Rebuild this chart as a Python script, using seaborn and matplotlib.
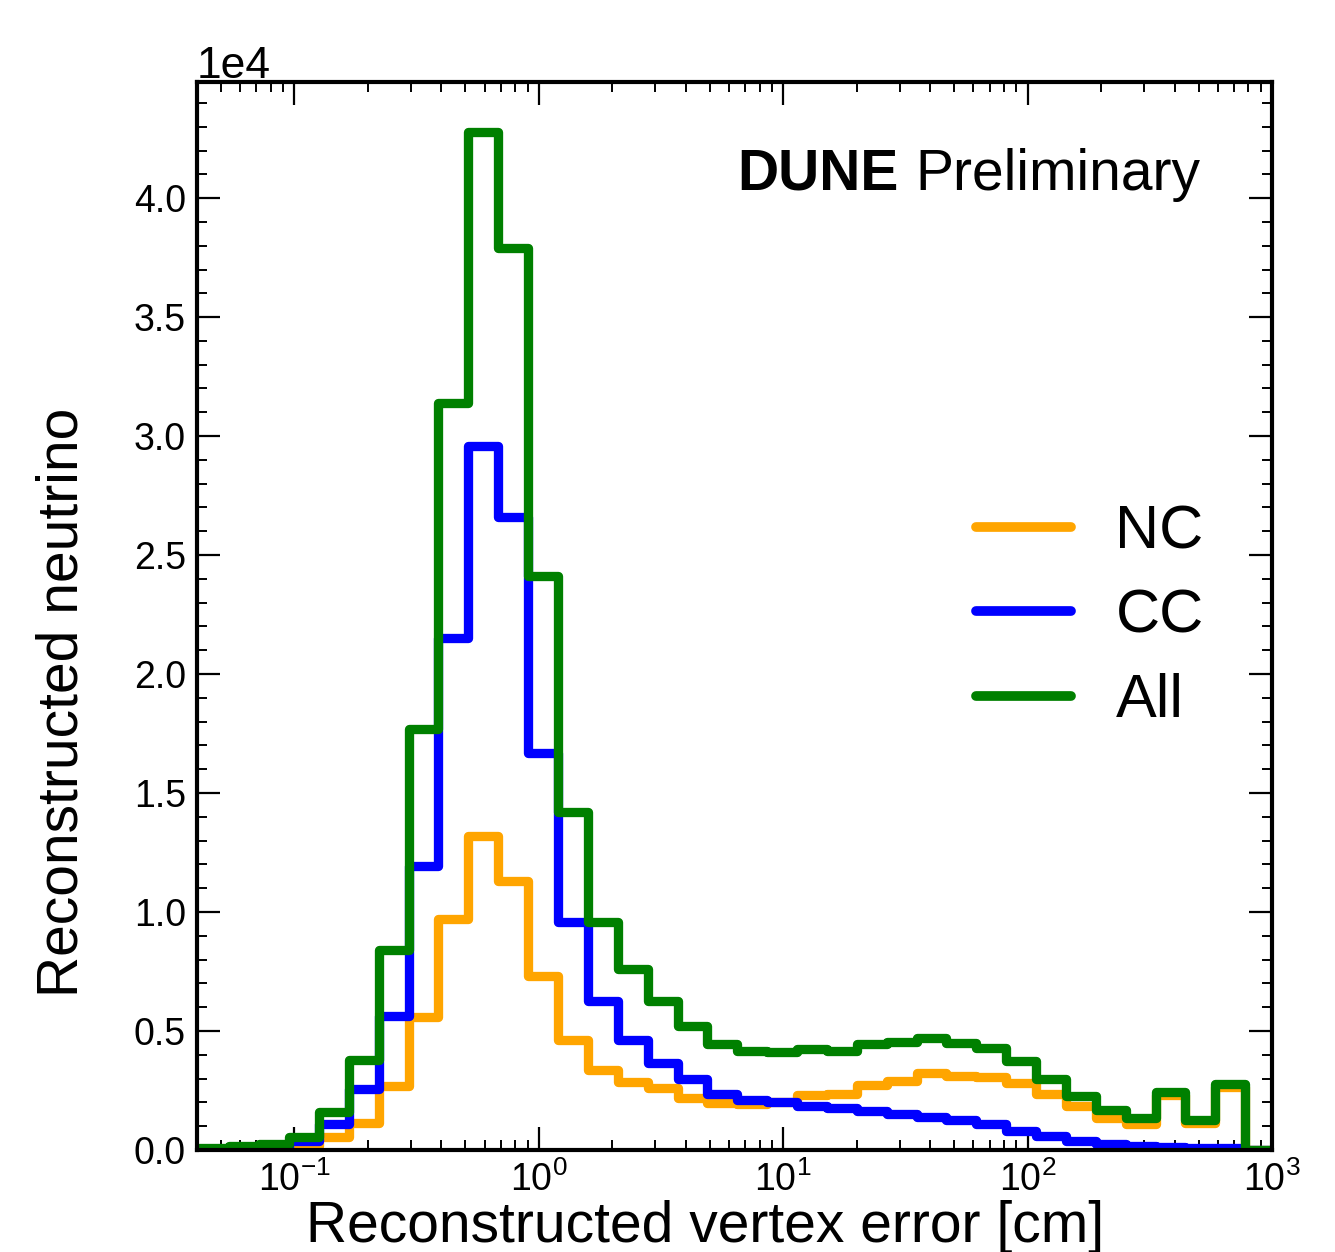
import numpy as np
import pandas as pd
import matplotlib
matplotlib.use("Agg")
import matplotlib.pyplot as plt
import seaborn as sns
from matplotlib.lines import Line2D
from matplotlib.ticker import MultipleLocator

# ---- data (bin contents) ----
n_bins = 36
log_range = (-1.388, 3.012)   # log10 bin range in cm

nc_counts = [0, 0, 0, 150, 550, 1120, 2690, 5600, 9700, 13200, 11300, 7330,
             4620, 3340, 2840, 2590, 2170, 1960, 1930, 2010, 2310, 2350, 2750, 2900,
             3250, 3120, 3080, 2830, 2370, 1840, 1330, 1100, 2310, 1120, 2630, 0]
cc_counts = [0, 0, 90, 370, 1080, 2550, 5640, 11950, 21500, 29600, 26600, 16700,
             9570, 6270, 4610, 3640, 2980, 2340, 2100, 2000, 1860, 1750, 1620, 1530,
             1370, 1240, 1090, 810, 600, 390, 250, 150, 120, 100, 80, 0]
all_counts = [80, 150, 250, 560, 1600, 3760, 8400, 17700, 31400, 42800, 37900, 24100,
              14200, 9600, 7600, 6270, 5220, 4450, 4170, 4100, 4240, 4150, 4450, 4550,
              4700, 4500, 4300, 3740, 2970, 2270, 1680, 1360, 2450, 1260, 2760, 0]

series_labels = ["NC", "CC", "All"]
series_colors = ["#FFA500", "#0000FF", "#008000"]

# ---- style ----
sns.set_style("ticks")
plt.rcParams['font.family'] = ['Liberation Sans', 'DejaVu Sans']
plt.rcParams['mathtext.fontset'] = 'custom'
plt.rcParams['mathtext.rm'] = 'Liberation Sans'
plt.rcParams['mathtext.it'] = 'Liberation Sans:italic'
plt.rcParams['mathtext.bf'] = 'Liberation Sans:bold'
plt.rcParams['axes.linewidth'] = 3.0
for key in ['text.color', 'axes.labelcolor', 'xtick.color', 'ytick.color',
            'axes.edgecolor', 'xtick.labelcolor', 'ytick.labelcolor']:
    plt.rcParams[key] = 'black'

log_edges = np.linspace(log_range[0], log_range[1], n_bins + 1)
centers = 10 ** ((log_edges[:-1] + log_edges[1:]) / 2)
frames = []
for lab, vals in zip(series_labels, [nc_counts, cc_counts, all_counts]):
    frames.append(pd.DataFrame({"error": centers, "count": vals, "type": lab}))
df = pd.concat(frames, ignore_index=True)

fig = plt.figure(figsize=(13.35, 12.52), dpi=100)
ax = fig.add_axes([0.1476, 0.0815, 0.8053, 0.853])

for lab, col in zip(series_labels, series_colors):
    sub = df[df["type"] == lab]
    sns.histplot(data=sub, x="error", weights="count", bins=n_bins,
                 binrange=log_range, log_scale=True, element="step",
                 fill=False, color=col, linewidth=6.7, ax=ax)

ax.set_xlim(0.04, 1000)
ax.set_ylim(0, 44880)

ax.yaxis.set_major_locator(MultipleLocator(5000))
ax.yaxis.set_minor_locator(MultipleLocator(1000))
ax.ticklabel_format(axis='y', style='sci', scilimits=(0, 0))
ax.yaxis.get_offset_text().set_fontsize(32)

ax.tick_params(which='both', direction='in', top=True, right=True)
ax.tick_params(which='major', length=16.5, width=1.6, labelsize=27, pad=8)
ax.tick_params(which='minor', length=7.5, width=1.4)

ax.set_xlabel("Reconstructed vertex error [cm]", fontsize=41)
ax.set_ylabel("Reconstructed neutrino", fontsize=41)
ax.xaxis.set_label_coords(0.4726, -0.047)
ax.yaxis.set_label_coords(-0.100, 0.4195)

t1 = ax.text(0.5023, 0.899, "DUNE", transform=ax.transAxes, fontsize=41,
             fontweight='bold', ha='left', va='baseline')
ax.annotate("Preliminary", xy=(1, 0), xycoords=t1, xytext=(12, 0),
            textcoords='offset points', fontsize=41, ha='left', va='bottom')

handles = [Line2D([0], [0], color=c, lw=7) for c in series_colors]
ax.legend(handles, series_labels, loc='center left', bbox_to_anchor=(0.7247, 0.499),
          frameon=False, fontsize=44, handlelength=1.55, handletextpad=0.73,
          labelspacing=0.45, borderpad=0, borderaxespad=0)

fig.savefig("out.png", dpi=100)
